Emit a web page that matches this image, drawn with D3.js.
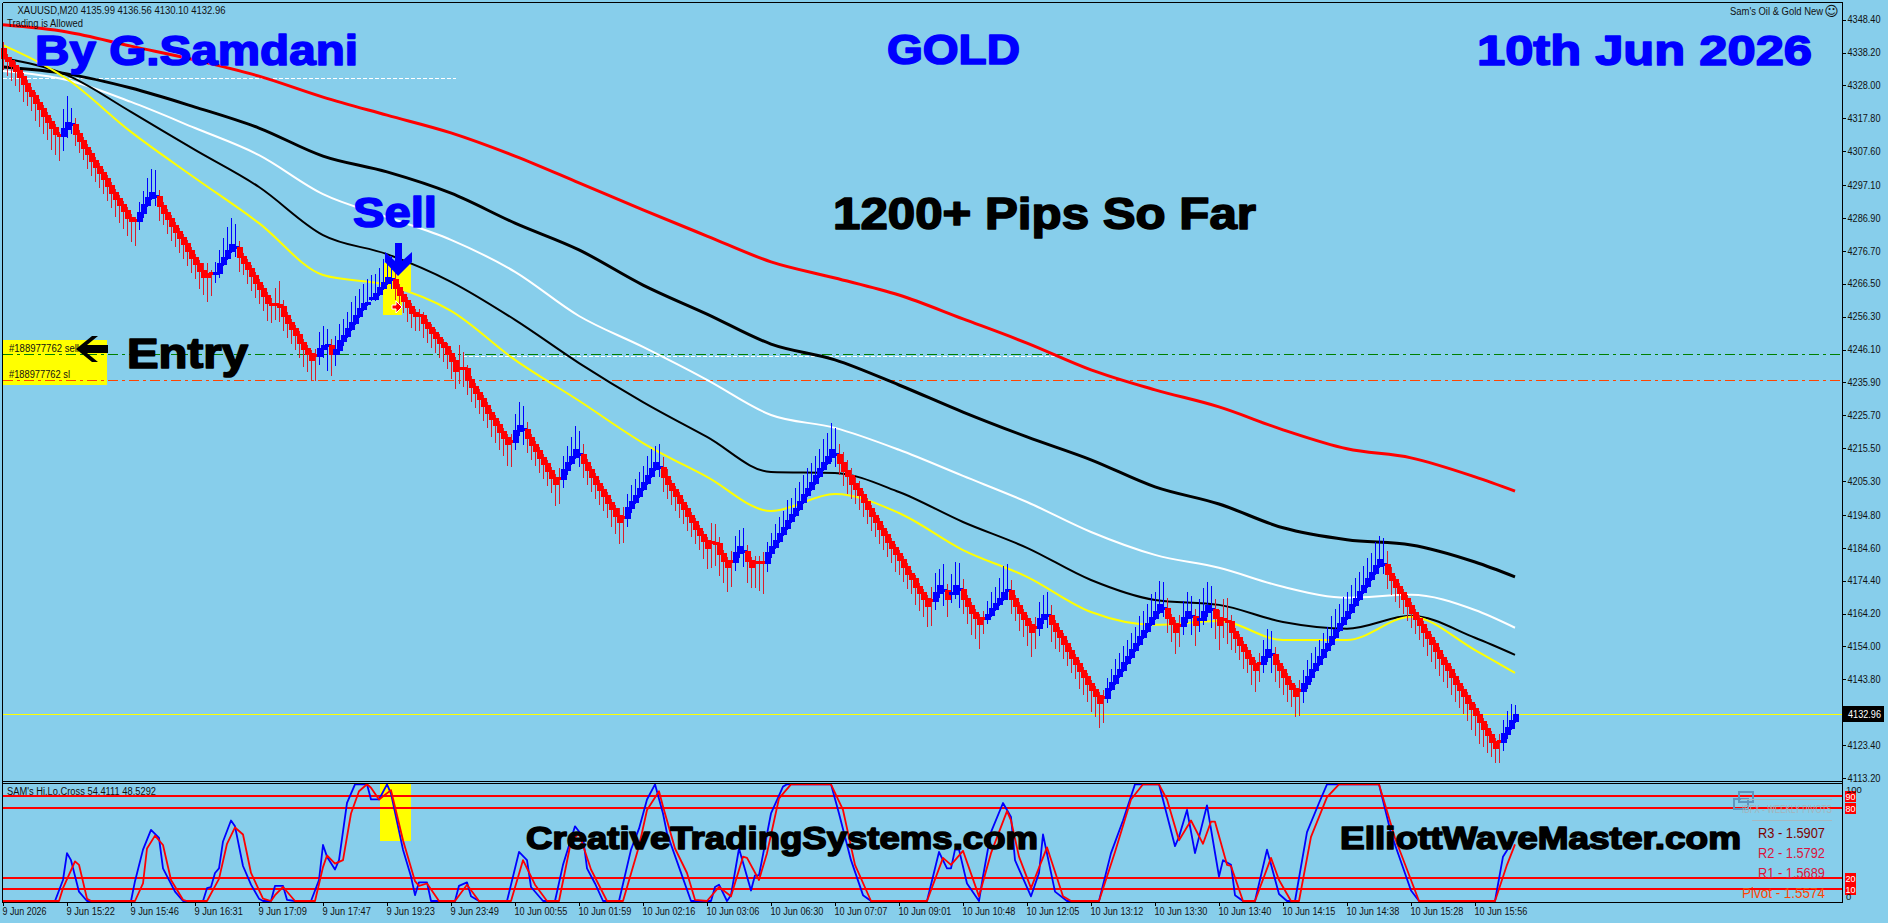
<!DOCTYPE html>
<html>
<head>
<meta charset="utf-8">
<title>XAUUSD M20</title>
<script src="https://cdn.jsdelivr.net/npm/d3@7"></script>
<style>
html,body{margin:0;padding:0;background:#87ceeb;overflow:hidden}
svg{display:block}
text{font-family:"Liberation Sans",Arial,sans-serif}
</style>
</head>
<body>
<svg id="chart" width="1888" height="923"></svg>
<script>
// Closing price of every M20 bar, oldest first
const firstOpen = 4339.5;
const barCloses = [
4336.8,4335.9,4334.3,4332.8,4330.9,4328.8,4326.6,4325.0,4322.9,4321.0,
4318.8,4317.0,4315.1,4313.3,4312.6,4314.8,4316.7,4316.0,4313.3,4311.1,
4308.9,4307.1,4304.9,4303.0,4301.2,4299.3,4297.1,4295.0,4293.1,4291.2,
4289.4,4287.2,4286.3,4286.3,4288.8,4291.2,4293.4,4295.0,4293.7,4290.9,
4288.8,4286.9,4284.7,4282.9,4281.0,4279.1,4277.0,4274.8,4272.9,4270.8,
4268.9,4269.8,4269.8,4270.2,4272.9,4274.8,4277.0,4278.8,4277.9,4275.1,
4273.3,4271.4,4269.2,4267.1,4265.2,4263.0,4260.9,4260.2,4260.2,4259.6,
4256.8,4254.7,4252.8,4250.9,4248.5,4246.6,4245.0,4243.2,4244.4,4246.6,
4247.5,4247.5,4245.0,4246.3,4249.1,4250.6,4252.8,4254.7,4256.8,4259.0,
4260.5,4260.9,4262.1,4263.6,4265.5,4267.1,4268.6,4268.0,4265.5,4263.3,
4261.5,4259.6,4257.8,4256.8,4256.8,4254.7,4253.1,4251.5,4250.0,4248.5,
4247.2,4245.0,4242.9,4239.8,4240.4,4240.4,4237.0,4234.8,4232.9,4231.1,
4228.9,4226.7,4224.9,4223.0,4220.9,4219.0,4217.1,4217.8,4221.2,4222.7,
4221.5,4219.0,4216.8,4215.0,4212.8,4210.9,4208.8,4206.6,4204.7,4206.3,
4209.1,4211.2,4213.1,4215.3,4213.7,4211.2,4209.1,4206.9,4204.7,4202.9,
4201.0,4198.8,4197.0,4194.8,4192.9,4194.2,4197.3,4199.1,4201.0,4203.2,
4205.0,4207.2,4209.4,4211.2,4209.7,4206.9,4204.7,4202.9,4201.0,4198.8,
4197.0,4194.8,4192.9,4190.8,4188.9,4187.1,4184.9,4186.4,4186.1,4183.0,
4180.8,4179.0,4180.5,4183.3,4185.2,4183.6,4180.8,4179.0,4180.2,4180.2,
4180.2,4183.3,4185.2,4187.1,4189.2,4191.1,4193.3,4195.1,4197.0,4199.1,
4201.3,4203.2,4205.0,4207.2,4209.4,4211.2,4213.1,4215.3,4213.7,4211.2,
4208.8,4207.2,4204.7,4203.2,4201.3,4199.1,4197.0,4194.8,4192.9,4190.8,
4188.9,4186.7,4184.9,4183.0,4181.2,4179.0,4176.8,4175.3,4172.8,4170.9,
4169.1,4166.9,4168.4,4170.9,4173.1,4171.5,4169.1,4170.6,4173.1,4171.9,
4169.1,4166.9,4164.7,4163.2,4161.3,4162.9,4164.1,4166.0,4167.5,4169.1,
4170.9,4171.5,4169.1,4166.9,4164.7,4162.9,4161.0,4158.8,4160.1,4162.9,
4164.1,4163.8,4161.3,4159.1,4157.3,4155.1,4152.9,4150.8,4148.9,4146.7,
4144.9,4142.7,4140.8,4139.0,4136.8,4138.4,4141.2,4143.0,4145.2,4147.0,
4149.2,4151.1,4153.3,4155.1,4157.3,4159.1,4161.3,4163.2,4165.0,4167.2,
4166.0,4163.2,4161.3,4158.8,4160.7,4163.2,4165.0,4163.5,4161.0,4162.6,
4165.0,4166.9,4165.7,4163.2,4161.0,4162.6,4161.9,4158.8,4157.0,4154.8,
4152.9,4150.8,4148.9,4147.0,4148.9,4151.1,4153.3,4151.7,4148.9,4147.0,
4144.9,4142.7,4141.2,4139.0,4140.5,4142.7,4144.9,4147.0,4148.9,4151.1,
4153.3,4155.1,4157.3,4159.5,4161.3,4163.2,4165.0,4167.2,4169.1,4171.2,
4173.1,4175.3,4177.1,4179.3,4181.2,4179.6,4176.8,4175.0,4172.8,4170.9,
4169.1,4166.9,4164.7,4162.9,4161.0,4158.8,4157.0,4155.1,4152.9,4150.8,
4148.9,4147.0,4144.9,4142.7,4140.8,4139.0,4136.8,4135.0,4133.1,4130.9,
4128.8,4126.9,4124.7,4122.9,4124.7,4127.2,4129.1,4131.2,4132.96
];

// Wick length above the body, in dollars
const upperWick = [
2,1,1,1,1,1,1,1,1,1,
1,1,1,1,1,6,8,5,2,1,
1,1,1,1,1,1,1,1,1,1,
1,1,1,1,3,4,6,7,8,2,
1,1,1,1,1,1,1,1,1,1,
2,3,1,3,4,6,7,8,7,2,
1,1,1,1,1,1,1,2,5,7,
2,1,1,1,1,1,1,1,2,5,
6,5,2,4,5,5,5,6,6,6,
6,7,7,6,6,7,6,7,2,1,
1,1,1,1,2,1,1,1,1,1,
1,1,1,1,7,5,1,1,1,1,
1,1,1,1,1,1,1,2,5,7,
7,2,1,1,1,1,1,1,1,3,
4,5,6,7,7,3,1,1,1,1,
1,1,1,1,2,3,4,5,5,5,
5,6,6,5,7,3,2,1,1,1,
1,1,1,1,1,1,1,6,6,2,
1,1,3,5,5,7,2,1,2,2,
3,3,4,5,5,5,6,5,6,6,
6,6,6,6,6,7,7,8,8,3,
3,3,2,2,2,1,1,1,1,1,
1,1,1,1,1,1,1,1,1,1,
1,1,4,6,5,8,2,6,7,8,
3,1,1,1,1,2,4,5,5,6,
8,8,3,1,1,1,1,1,3,5,
6,7,3,1,1,1,1,1,1,1,
1,1,1,1,1,2,3,4,5,5,
5,5,5,5,6,6,6,7,6,7,
8,3,1,1,3,5,6,6,2,6,
7,7,7,3,2,6,7,2,1,1,
1,1,1,1,3,5,6,7,2,1,
1,1,1,1,3,4,5,5,5,5,
5,5,6,6,6,6,6,6,6,6,
6,6,6,7,7,8,4,2,1,1,
1,1,1,1,1,1,1,1,1,1,
1,1,1,1,1,1,1,1,1,1,
1,1,1,1,2,4,5,5,3
];

// Wick length below the body, in dollars
const lowerWick = [
4,5,5,5,5,6,5,5,6,6,
6,6,7,7,8,5,3,3,4,4,
4,5,5,5,5,5,5,5,6,6,
6,6,7,8,3,2,1,1,3,5,
4,5,5,5,5,5,5,5,5,6,
6,8,7,3,2,1,1,1,3,5,
4,5,5,5,5,5,6,6,5,5,
5,5,5,5,5,6,6,7,8,3,
3,8,7,4,2,2,1,1,1,1,
1,1,1,1,1,1,1,3,4,4,
4,5,5,5,5,5,5,5,5,5,
5,5,6,6,5,6,5,5,5,5,
5,5,6,6,6,6,7,8,3,2,
5,5,5,5,5,5,5,5,7,8,
3,2,1,1,4,5,5,5,5,5,
5,5,6,6,7,8,3,2,1,1,
1,1,1,1,3,5,5,5,5,5,
5,5,5,5,5,6,7,8,7,7,
7,8,8,3,2,5,7,7,8,9,
10,3,2,1,1,1,1,1,1,1,
1,1,1,1,1,1,1,2,4,4,
5,6,5,5,5,5,5,5,5,5,
5,5,5,6,5,5,5,5,6,6,
6,7,8,3,2,5,6,3,2,6,
5,6,7,7,8,5,2,1,1,1,
1,3,5,5,6,6,7,8,7,3,
2,4,6,6,5,5,5,5,5,6,
6,6,7,7,8,8,2,1,1,1,
1,1,1,1,1,1,1,1,1,1,
3,5,6,7,7,3,2,6,7,4,
2,2,6,7,8,6,7,6,5,5,
6,5,7,7,6,3,2,6,6,6,
6,6,6,7,8,4,2,2,1,1,
1,1,1,1,1,1,1,1,1,1,
1,1,1,1,1,3,5,5,5,5,
5,5,5,5,5,5,6,6,6,6,
6,6,6,6,6,6,6,7,7,7,
6,6,5,5,7,3,2,1,1
];

// Runs of bars printed in the rising colour, and bars whose body is only a sliver
const risingRuns = [[15,17],[34,38],[53,58],[79,81],[83,97],[128,130],[140,144],[156,164],[183,185],[191,208],
  [233,235],[237,239],[246,251],[259,261],[276,290],[295,297],[299,302],[315,317],[325,345],[375,378]];
const dojiBars = [14,17,33,38,52,58,67,68,78,81,92,97,104,114,115,127,130,139,144,155,164,177,178,182,185,188,189,190,
  208,232,235,237,239,245,251,258,261,275,290,294,297,299,302,305,306,314,317,324,345,374];

// Moving averages, read every sixteen bars plus the final bar
const averageBars = [0,16,32,48,64,80,96,112,128,144,160,176,192,208,224,240,256,272,288,304,320,336,352,368,378];
const redAverage = [4346.8,4344.6,4340.2,4335.9,4330.9,4324.4,4318.8,4313.3,4306.1,4297.8,4289.4,4281.3,4273.3,4268.3,4263.0,4255.6,4248.1,4239.8,4233.6,4228.3,4221.2,4215.3,4212.5,4206.6,4202.2];
const slowBlackAverage = [4333.7,4331.6,4327.2,4321.3,4314.8,4306.1,4301.2,4294.6,4285.3,4277.0,4266.1,4257.1,4247.8,4242.9,4235.1,4226.7,4219.0,4211.9,4203.5,4198.2,4190.8,4187.1,4185.5,4180.2,4175.6];
const whiteAverage = [4332.5,4329.7,4322.9,4314.8,4306.4,4294.3,4287.2,4280.1,4270.2,4256.5,4246.9,4236.7,4225.8,4221.8,4215.0,4206.9,4198.8,4189.5,4182.4,4178.4,4172.5,4169.1,4170.0,4165.3,4159.8];
const fastBlackAverage = [4336.5,4331.2,4319.8,4308.0,4296.5,4281.6,4275.7,4267.1,4255.3,4241.9,4229.8,4219.0,4208.1,4207.8,4201.9,4192.6,4184.6,4174.6,4168.4,4166.9,4161.6,4159.5,4163.5,4156.7,4151.4];
const yellowAverage = [4340.5,4330.0,4313.6,4299.3,4285.3,4269.2,4266.1,4258.1,4242.9,4230.2,4217.1,4206.6,4196.0,4201.3,4195.4,4183.9,4175.6,4164.7,4160.7,4161.9,4156.0,4156.0,4163.2,4152.9,4145.8];

// Hi.Lo.Cross oscillator: turning points of the fast and the slow line
const fastLineBars = [0,13,15,16,17,19,21,32,33,35,37,39,40,43,45,50,51,52,53,54,55,57,58,60,62,64,65,67,68,70,71,73,77,79,80,81,83,84,86,88,91,92,94,96,97,100,102,103,104,106,107,109,113,114,116,117,119,126,129,131,132,135,138,140,143,145,146,148,150,154,157,159,161,163,165,166,169,172,177,178,179,181,182,184,187,188,189,192,195,196,207,209,212,215,217,231,234,236,237,238,239,241,244,245,247,250,252,253,257,259,260,263,266,274,277,280,283,289,293,294,296,298,301,304,305,307,308,310,313,316,319,321,323,326,329,331,344,347,352,354,373,375,378];
const fastLineValues = [0,0,18,41,35,8,0,0,17,44,61,54,28,8,0,0,11,12,24,28,51,69,64,30,14,2,0,0,13,13,1,0,0,18,48,38,27,35,84,100,100,87,87,100,92,44,21,5,16,16,0,0,0,13,16,4,0,0,42,35,12,0,0,31,64,55,28,15,0,0,44,62,87,100,75,58,29,0,0,12,14,0,5,45,9,22,22,75,98,100,100,75,35,5,0,0,42,28,28,44,44,15,0,21,59,84,72,35,4,24,57,8,0,0,41,69,100,100,47,55,78,41,82,21,35,31,5,0,0,44,6,0,0,59,84,100,100,58,9,0,0,38,54.4111];
const slowLineBars = [0,14,15,18,19,21,22,33,35,36,38,40,42,45,46,51,54,56,58,60,62,65,67,68,70,73,78,80,81,83,85,87,89,91,92,94,97,100,103,104,106,109,113,116,119,127,130,133,136,139,142,144,147,151,155,159,161,164,165,168,171,173,176,179,182,185,186,189,191,194,197,207,210,213,217,231,235,237,240,244,247,251,252,254,257,261,265,267,274,278,282,285,289,291,294,297,300,302,303,306,307,310,313,317,319,322,324,327,331,334,344,348,354,373,376,378];
const slowLineValues = [0,0,11,34,31,2,0,0,15,45,56,48,18,1,0,0,19,49,63,57,24,2,0,5,12,0,0,29,39,32,35,75,94,100,97,87,95,52,17,13,15,0,0,14,0,0,35,14,0,0,51,58,27,0,0,47,78,94,81,45,24,1,0,12,4,38,37,18,41,88,100,100,78,31,0,0,37,31,43,4,41,77,69,38,11,46,4,0,0,42,87,100,100,87,52,69,49,68,68,31,30,0,0,37,18,0,0,55,89,100,100,54,0,0,31,48.5292];
const oscillatorLevels = [90,80,20,10];

// Axis contents
const priceTicks = [4348.4,4338.2,4328,4317.8,4307.6,4297.1,4286.9,4276.7,4266.5,4256.3,4246.1,4235.9,4225.7,4215.5,4205.3,4194.8,4184.6,4174.4,4164.2,4154,4143.8,4123.4,4113.2];
const timeLabels = ["9 Jun 2026","9 Jun 15:22","9 Jun 15:46","9 Jun 16:31","9 Jun 17:09","9 Jun 17:47","9 Jun 19:23","9 Jun 23:49","10 Jun 00:55","10 Jun 01:59","10 Jun 02:16","10 Jun 03:06","10 Jun 06:30","10 Jun 07:07","10 Jun 09:01","10 Jun 10:48","10 Jun 12:05","10 Jun 13:12","10 Jun 13:30","10 Jun 13:40","10 Jun 14:15","10 Jun 14:38","10 Jun 15:28","10 Jun 15:56"];
const labelledBars = [0,16,32,48,64,80,96,112,128,144,160,176,192,208,224,240,256,272,288,304,320,336,352,368];

// Order levels and the current price
const entryPrice = 4244.7;
const stopPrice = 4236.7;
const lastPrice = 4132.96;
const upperGuidePrice = 4330.3;
const lowerGuidePrice = 4244.1;

const pivotRows = [["R3 - 1.5907","#800000",67],["R2 - 1.5792","#dc143c",67],["R1 - 1.5689","#dc143c",67],["Pivot - 1.5574","#ff4500",83]];

const svg = d3.select("#chart");
const BLUE = "#0000ff", RED = "#ff0000", SKY = "#87ceeb";

const barX = d3.scaleLinear().domain([0,378]).range([3,1515]);
const priceY = d3.scaleLinear().domain([4113.2,4348.4]).range([778,19.7]);
const oscY = d3.scaleLinear().domain([0,100]).range([901,784.3]);
const rightEdge = 1842.5;

svg.append("rect").attr("width",1888).attr("height",923).attr("fill",SKY);

function label(x,y,str,o={}){
  const t = svg.append("text").attr("x",x).attr("y",y).text(str)
    .attr("font-size",o.size||10).attr("fill",o.fill||"#111")
    .attr("text-anchor",o.anchor||"start");
  if(o.family) t.style("font-family",o.family);
  if(o.bold) t.attr("font-weight","bold");
  if(o.stroke) t.attr("stroke",o.fill).attr("stroke-width",o.stroke).attr("stroke-linejoin","round");
  if(o.width) t.attr("textLength",o.width).attr("lengthAdjust","spacingAndGlyphs");
  return t;
}
const box = (x,y,w,h,fill) => svg.append("rect").attr("x",x).attr("y",y).attr("width",w).attr("height",h).attr("fill",fill).attr("shape-rendering","crispEdges");
const rule = (x1,y1,x2,y2,color,w=1,dash=null) => svg.append("line").attr("x1",x1).attr("y1",y1).attr("x2",x2).attr("y2",y2)
  .attr("stroke",color).attr("stroke-width",w).attr("stroke-dasharray",dash).attr("shape-rendering","crispEdges");

// Highlight boxes behind the price bars
box(3,340,104,45,"#ffff00");
box(383,263,19,52,"#ffff00");
box(402,263,9,28,"#ffff00");
box(380,784,31,57,"#ffff00");

// Horizontal order and guide lines
const crisp = p => Math.round(priceY(p))+.5;
rule(3,crisp(upperGuidePrice),456,crisp(upperGuidePrice),"#ffffff",1,"4,2");
rule(463,crisp(lowerGuidePrice),1060,crisp(lowerGuidePrice),"#ffffff",1,"4,2");
rule(3,crisp(entryPrice),rightEdge,crisp(entryPrice),"#008000",1,"10,4,3,4");
rule(3,crisp(stopPrice),rightEdge,crisp(stopPrice),"#ff4500",1,"10,4,3,4");
rule(3,crisp(lastPrice),rightEdge,crisp(lastPrice),"#ffff00",1);

// Moving averages
const averageLine = d3.line().x((d,i)=>barX(averageBars[i])).y(d=>priceY(d)).curve(d3.curveMonotoneX);
[[redAverage,RED,3],[slowBlackAverage,"#000",3],[whiteAverage,"#fff",2],[fastBlackAverage,"#000",2],[yellowAverage,"#ffff00",2]]
  .forEach(([vals,color,w])=>{
    svg.append("path").attr("d",averageLine(vals)).attr("fill","none").attr("stroke",color)
      .attr("stroke-width",w).attr("stroke-linejoin","round");
  });

// Price bars: each body is a block wider than the bar pitch, so neighbours stack into a band
const isRising = i => risingRuns.some(([a,b])=>i>=a&&i<=b);
const bars = barCloses.map((close,i)=>{
  const isDoji = dojiBars.includes(i);
  const open = isDoji ? close : (i===0?firstOpen:barCloses[i-1]);
  const top = Math.max(open,close), bottom = Math.min(open,close);
  return {i,open,close,isDoji,high:top+upperWick[i],low:bottom-lowerWick[i],up:isRising(i)};
});
const gBars = svg.append("g").attr("shape-rendering","crispEdges");
gBars.selectAll("line").data(bars).join("line")
  .attr("x1",d=>Math.round(barX(d.i))+.5).attr("x2",d=>Math.round(barX(d.i))+.5)
  .attr("y1",d=>priceY(d.high)).attr("y2",d=>priceY(d.low))
  .attr("stroke",d=>d.up?BLUE:"#d81e2c").attr("stroke-width",1);
gBars.selectAll("rect").data(bars).join("rect")
  .attr("x",d=>Math.round(barX(d.i))-2).attr("width",6)
  .attr("y",d=>Math.round(priceY(Math.max(d.open,d.close)))-(d.isDoji?1:0))
  .attr("height",d=>d.isDoji?3:Math.round(Math.abs(priceY(d.open)-priceY(d.close)))+2)
  .attr("fill",d=>d.up?BLUE:RED);

// Oscillator panel
oscillatorLevels.forEach(v=>rule(3,Math.round(oscY(v)),rightEdge,Math.round(oscY(v)),RED,1.5));
const oscPath = (barsArr,values,color)=>{
  const line = d3.line().x((d,i)=>barX(barsArr[i])).y(d=>oscY(d));
  svg.append("path").attr("d",line(values)).attr("fill","none").attr("stroke",color).attr("stroke-width",1.8).attr("stroke-linejoin","round");
};
oscPath(fastLineBars,fastLineValues,BLUE);
oscPath(slowLineBars,slowLineValues,RED);

// Frame of both panes
rule(2.5,2.5,rightEdge,2.5,"#000",1.5);
rule(2.5,2.5,2.5,902.5,"#000",1.5);
rule(rightEdge,2.5,rightEdge,902.5,"#000",1.5);
rule(2.5,781.5,rightEdge,781.5,"#000",1.5);
rule(2.5,783.5,rightEdge,783.5,"#000",1.5);
rule(2.5,902.5,rightEdge,902.5,"#000",1.5);

// Axes
const yAxis = d3.axisRight(priceY).tickValues(priceTicks).tickFormat(d3.format(".2f")).tickSize(3).tickPadding(2);
const yg = svg.append("g").attr("transform",`translate(${rightEdge},0)`).call(yAxis);
yg.select(".domain").remove();
yg.selectAll("text").attr("font-size",10).attr("fill","#111").style("font-family",'"Liberation Sans",sans-serif').attr("textLength",33).attr("lengthAdjust","spacingAndGlyphs");
yg.selectAll("line").attr("stroke","#000").attr("shape-rendering","crispEdges");

const xAxis = d3.axisBottom(barX).tickValues(labelledBars).tickFormat((d,i)=>timeLabels[i]).tickSize(3).tickPadding(2);
const xg = svg.append("g").attr("transform","translate(0,902.5)").call(xAxis);
xg.select(".domain").remove();
xg.selectAll("text").attr("text-anchor","start").attr("x",-1).attr("font-size",10).attr("fill","#111").style("font-family",'"Liberation Sans",sans-serif')
  .attr("textLength",(d,i)=>timeLabels[i].length*4.4).attr("lengthAdjust","spacingAndGlyphs");
xg.selectAll("line").attr("stroke","#000").attr("shape-rendering","crispEdges");

// Chart captions
label(17.5,14,"XAUUSD,M20  4135.99 4136.56 4130.10 4132.96",{width:208});
label(7,27,"Trading is Allowed",{width:76});
label(1823,15,"Sam's Oil & Gold New",{anchor:"end",width:93});
label(1831.5,16,"\u263A",{anchor:"middle",size:14,family:"'DejaVu Sans',sans-serif"});
label(7,795,"SAM's Hi.Lo.Cross 54.4111 48.5292",{width:149});

// Current price tag
box(1843,706,41,16,"#000");
label(1848,718,d3.format(".2f")(lastPrice),{fill:"#fff",width:33});

// Order labels inside the yellow box
label(9,352,"#188977762 sell",{width:70});
label(9,378,"#188977762 sl",{width:61});

// Oscillator level tags
oscillatorLevels.forEach(v=>{
  box(1845,Math.round(oscY(v))-5,11,11,RED);
  label(1850.5,Math.round(oscY(v))+3.5,String(v),{fill:"#fff",anchor:"middle",size:9});
});
label(1846,793,"100",{size:9.5});
label(1846,900,"0",{size:9.5});

// Weekly pivots widget
svg.append("rect").attr("x",1739).attr("y",792).attr("width",14).attr("height",10).attr("fill","none").attr("stroke","#5f95bd").attr("stroke-width",2).attr("shape-rendering","crispEdges");
svg.append("rect").attr("x",1734).attr("y",799).attr("width",14).attr("height",10).attr("fill","none").attr("stroke","#5f95bd").attr("stroke-width",2).attr("shape-rendering","crispEdges");
rule(1741,799,1832,799,"#a9b7be",1);
rule(1752,820,1832,820,"#a9b7be",1);
label(1832,813,"IBFX - WEEKLY PIVOTS",{anchor:"end",fill:"#a5b3ba",width:90});
pivotRows.forEach(([t,c,w],i)=>{
  label(1825,838+i*20,t,{anchor:"end",fill:c,size:15,width:w});
});

// Order marker on the sell bar
svg.append("path").attr("d","M392,305h4v-4l6,6l-6,6v-4h-4z").attr("fill",RED).attr("stroke","#fff").attr("stroke-width",1);

// Signal arrows
svg.append("path").attr("fill",BLUE)
  .attr("d","M395,243H402V261L412,252V262L398,276L385,262V252L395,261Z");
svg.append("path").attr("fill","#000")
  .attr("d","M76,349L92,336H98L87,345H108V353H87L98,362H92Z");

// Headline text
const heavy = (x,y,str,w,size,fill) => label(x,y,str,{bold:true,size,fill,stroke:1.6,width:w});
heavy(35,65,"By G.Samdani",323,42,BLUE);
heavy(887,64,"GOLD",133,42,BLUE);
heavy(1477,65,"10th Jun 2026",335,42,BLUE);
heavy(353,227,"Sell",84,42,BLUE);
heavy(127,368,"Entry",121,42,"#000");
heavy(833,229,"1200+ Pips So Far",423,44,"#000");
heavy(526,849,"CreativeTradingSystems.com",512,32,"#000");
heavy(1340,849,"ElliottWaveMaster.com",401,32,"#000");
</script>
</body>
</html>
